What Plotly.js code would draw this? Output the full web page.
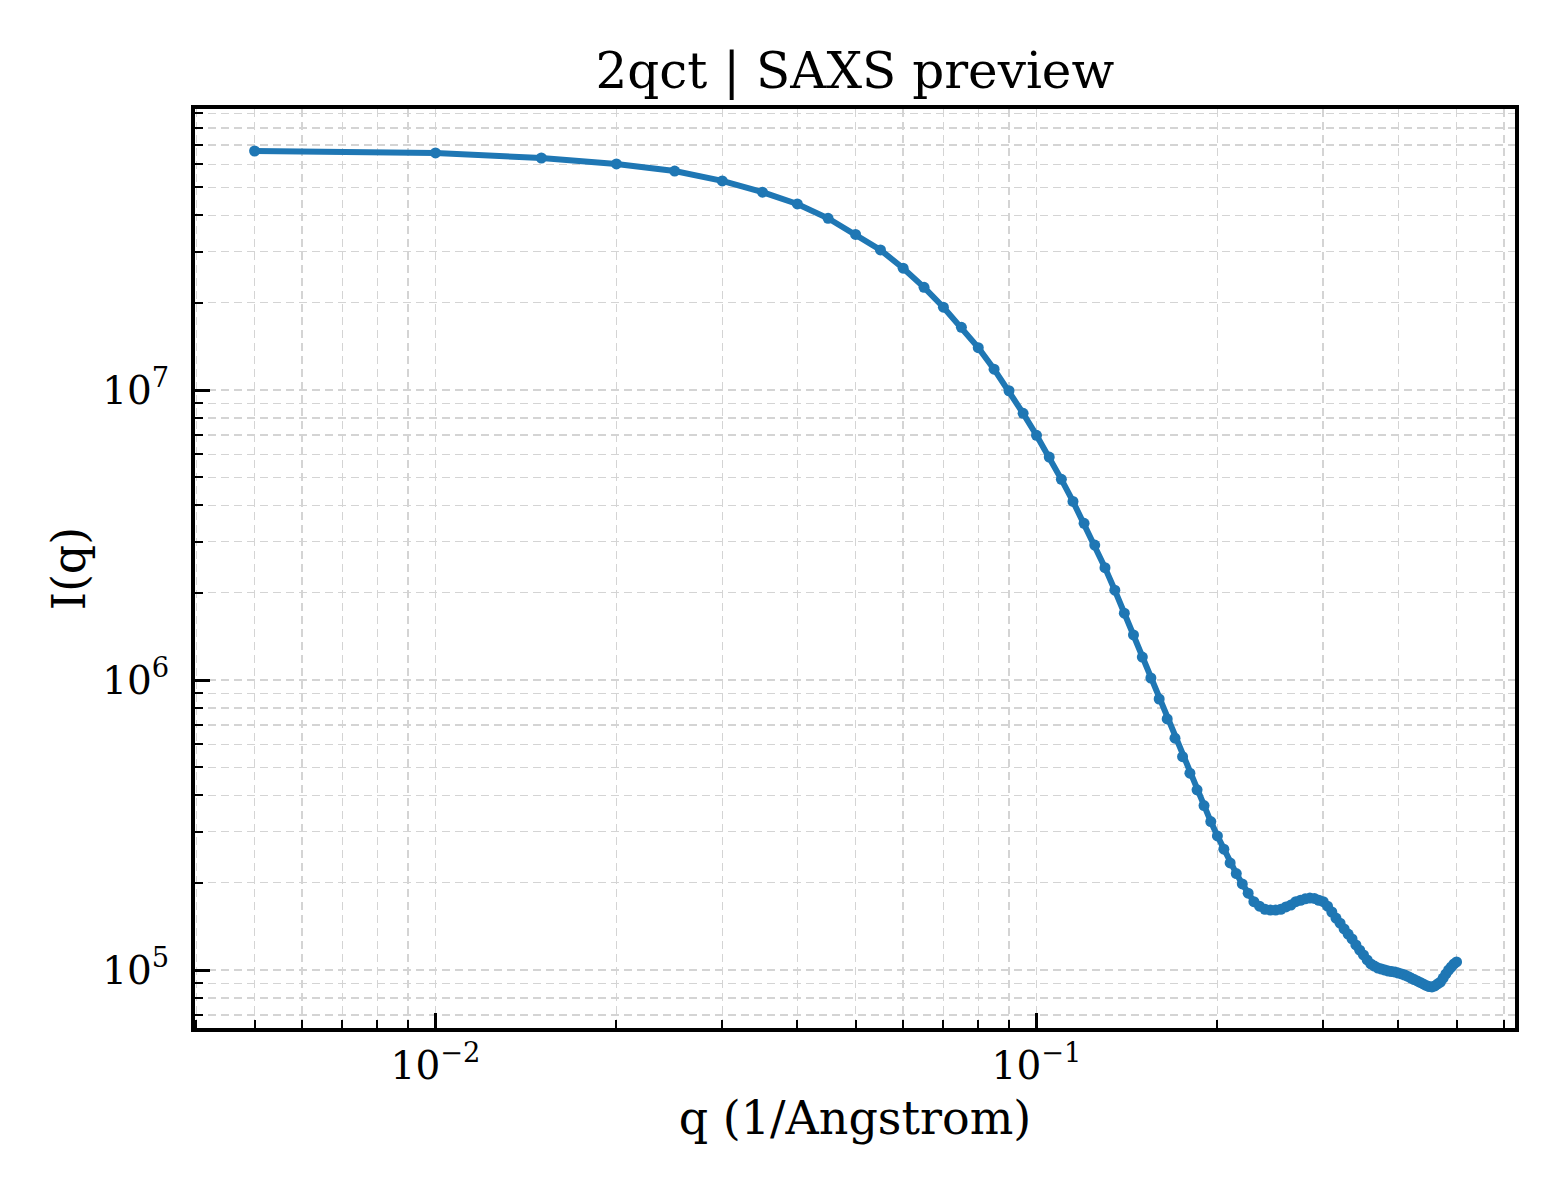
<!DOCTYPE html>
<html>
<head>
<meta charset="utf-8">
<script src="https://cdn.plot.ly/plotly-3.0.1.min.js"></script>
<style>
  html, body { margin: 0; padding: 0; background: white; }
  #plot { width: 1560px; height: 1200px; }
</style>
</head>
<body>
<div id="plot"></div>
<script>
// scattering vector q (1/Angstrom)
const qValues = [
  0.005, 0.010, 0.015, 0.020, 0.025, 0.030, 0.035, 0.040, 0.045, 0.050,
  0.055, 0.060, 0.065, 0.070, 0.075, 0.080, 0.085, 0.090, 0.095, 0.100,
  0.105, 0.110, 0.115, 0.120, 0.125, 0.130, 0.135, 0.140, 0.145, 0.150,
  0.155, 0.160, 0.165, 0.170, 0.175, 0.180, 0.185, 0.190, 0.195, 0.200,
  0.205, 0.210, 0.215, 0.220, 0.225, 0.230, 0.235, 0.240, 0.245, 0.250,
  0.255, 0.260, 0.265, 0.270, 0.275, 0.280, 0.285, 0.290, 0.295, 0.300,
  0.305, 0.310, 0.315, 0.320, 0.325, 0.330, 0.335, 0.340, 0.345, 0.350,
  0.355, 0.360, 0.365, 0.370, 0.375, 0.380, 0.385, 0.390, 0.395, 0.400,
  0.405, 0.410, 0.415, 0.420, 0.425, 0.430, 0.435, 0.440, 0.445, 0.450,
  0.455, 0.460, 0.465, 0.470, 0.475, 0.480, 0.485, 0.490, 0.495, 0.500
];

// intensity I(q)
const intensity = [
  6.67e7, 6.57e7, 6.31e7, 6.02e7, 5.69e7, 5.26e7, 4.81e7, 4.38e7, 3.91e7, 3.44e7,
  3.04e7, 2.63e7, 2.26e7, 1.93e7, 1.645e7, 1.40e7, 1.18e7, 9.94e6, 8.31e6, 6.98e6,
  5.87e6, 4.92e6, 4.13e6, 3.47e6, 2.92e6, 2.44e6, 2.04e6, 1.70e6, 1.43e6, 1.20e6,
  1.016e6, 8.60e5, 7.34e5, 6.30e5, 5.44e5, 4.77e5, 4.18e5, 3.69e5, 3.25e5, 2.90e5,
  2.61e5, 2.34e5, 2.15e5, 1.98e5, 1.84e5, 1.72e5, 1.66e5, 1.62e5, 1.61e5, 1.61e5,
  1.62e5, 1.65e5, 1.675e5, 1.72e5, 1.74e5, 1.76e5, 1.77e5, 1.765e5, 1.74e5, 1.72e5,
  1.66e5, 1.585e5, 1.51e5, 1.45e5, 1.385e5, 1.33e5, 1.28e5, 1.22e5, 1.17e5, 1.127e5,
  1.083e5, 1.049e5, 1.032e5, 1.016e5, 1.008e5, 1.0e5, 9.92e4, 9.88e4, 9.84e4, 9.76e4,
  9.69e4, 9.61e4, 9.50e4, 9.38e4, 9.27e4, 9.17e4, 9.06e4, 8.95e4, 8.85e4, 8.77e4,
  8.74e4, 8.81e4, 8.95e4, 9.09e4, 9.38e4, 9.69e4, 1.0e5, 1.024e5, 1.049e5, 1.066e5
];

// major tick labels
const xTickVals = [0.01, 0.1];
const xTickText = ['10<sup>\u22122</sup>', '10<sup>\u22121</sup>'];
const yTickVals = [1e5, 1e6, 1e7];
const yTickText = ['10<sup>5</sup>', '10<sup>6</sup>', '10<sup>7</sup>'];

const titleText = '2qct | SAXS preview';
const xTitle = 'q (1/Angstrom)';
const yTitle = 'I(q)';

// minor tick positions (2..9 within each decade)
function minorTicks(lo, hi) {
	let out = [];
	for (let e = lo; e <= hi; e++) {
		for (let d = 2; d <= 9; d++) {
			out.push(d * Math.pow(10, e));
		}
	}
	return out;
}

const font = 'DejaVu Serif, Liberation Serif, serif';
const gridColor = '#d4d4d4';

const trace = {
	x: qValues,
	y: intensity,
	type: 'scatter',
	mode: 'lines+markers',
	line: {color: '#1f77b4', width: 6},
	marker: {color: '#1f77b4', size: 11},
	showlegend: false,
	hoverinfo: 'x+y'
};

const axisCommon = {
	type: 'log',
	showline: true,
	mirror: true,
	linecolor: 'black',
	linewidth: 4,
	ticks: 'inside',
	ticklen: 15,
	tickwidth: 3,
	tickcolor: 'black',
	tickmode: 'array',
	showgrid: true,
	gridcolor: gridColor,
	gridwidth: 1.5,
	griddash: '8px,5px',
	zeroline: false,
	tickfont: {family: font, size: 39, color: 'black'}
};

const minorCommon = {
	tickmode: 'array',
	ticks: 'inside', ticklen: 8, tickwidth: 2, tickcolor: 'black',
	showgrid: true, gridcolor: gridColor, gridwidth: 1.5, griddash: '8px,5px'
};

const layout = {
	width: 1560,
	height: 1200,
	paper_bgcolor: 'white',
	plot_bgcolor: 'white',
	margin: {l: 195, r: 45, t: 109, b: 172},
	font: {family: font, color: 'black'},
	title: {
		text: titleText,
		font: {family: font, size: 50, color: 'black'},
		x: 0.548, xanchor: 'center',
		yref: 'container', y: 1 - 70 / 1200, yanchor: 'middle'
	},
	xaxis: Object.assign({}, axisCommon, {
		range: [-2.4002, -0.2038],
		tickvals: xTickVals,
		ticktext: xTickText,
		ticklabelstandoff: 0,
		minor: Object.assign({}, minorCommon, {tickvals: minorTicks(-3, -1)}),
		title: {text: xTitle, font: {family: font, size: 46, color: 'black'}, standoff: 16}
	}),
	yaxis: Object.assign({}, axisCommon, {
		range: [4.8, 7.969],
		tickvals: yTickVals,
		ticktext: yTickText,
		ticklabelstandoff: 14,
		minor: Object.assign({}, minorCommon, {tickvals: minorTicks(4, 7)}),
		title: {text: yTitle, font: {family: font, size: 46, color: 'black'}, standoff: 3}
	})
};

Plotly.newPlot('plot', [trace], layout, {staticPlot: true});
</script>
</body>
</html>
